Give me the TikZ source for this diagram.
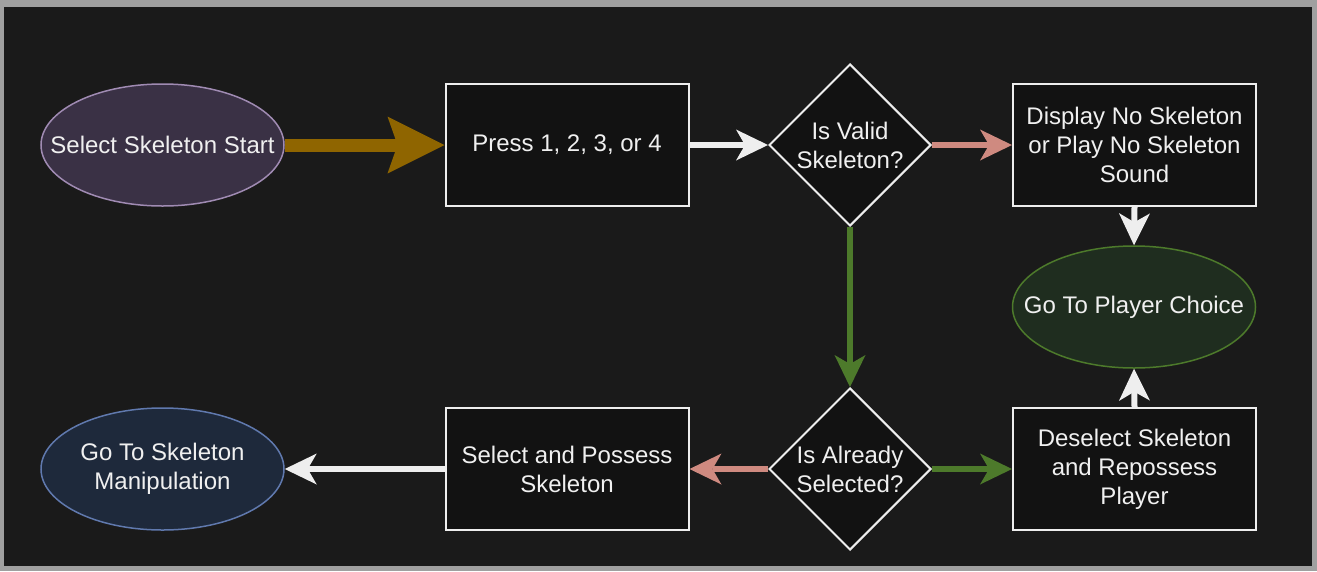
\documentclass[tikz,border=0pt]{standalone}
\usepackage{fontspec}
\setmainfont{Liberation Sans}
\usetikzlibrary{shapes.geometric,arrows.meta}
\definecolor{frame}{HTML}{A0A0A0}
\definecolor{bg}{HTML}{1A1A1A}
\definecolor{boxfill}{HTML}{121212}
\definecolor{boxline}{HTML}{EEEEEE}
\definecolor{txtc}{HTML}{F0F0F0}
\definecolor{purfill}{HTML}{3A3145}
\definecolor{purline}{HTML}{A08BB3}
\definecolor{bluefill}{HTML}{1E293B}
\definecolor{blueline}{HTML}{6079AE}
\definecolor{grnfill}{HTML}{1F2D1F}
\definecolor{grnline}{HTML}{4D7A2B}
\definecolor{gold}{HTML}{8F6500}
\definecolor{salmon}{HTML}{CF8A80}
\definecolor{grnarrow}{HTML}{4D7A2B}
\definecolor{whitearrow}{HTML}{EEEEEE}
\begin{document}
\begin{tikzpicture}[x=1pt,y=-1pt,
  txt/.style={text=txtc, font=\fontsize{24}{29}\selectfont, align=center},
  procbox/.style={draw=boxline, line width=2pt, fill=boxfill, minimum width=243pt, minimum height=122pt, inner sep=0pt, txt},
  decide/.style={diamond, aspect=1, draw=boxline, line width=2pt, fill=boxfill, minimum width=162pt, minimum height=162pt, inner sep=0pt},
  term/.style={ellipse, line width=1.5pt, minimum width=243pt, minimum height=122pt, inner sep=0pt},
  flow/.style={line width=6pt, -{Stealth[length=32pt,width=31pt,inset=9pt,line width=0pt]}},
  bigflow/.style={line width=13pt, -{Stealth[length=57pt,width=57pt,inset=10pt,line width=0pt]}},
]
\useasboundingbox (0,0) rectangle (1317,571);
\fill[frame] (0,0) rectangle (1317,571);
\fill[bg] (4,7) rectangle (1312,566);

\node[term, draw=purline, fill=purfill, label={[txt]center:Select Skeleton Start}] (start) at (162.5,145) {};
\node[procbox] (press) at (567,145) {Press 1, 2, 3, or 4};
\node[decide, label={[txt]center:Is Valid\\Skeleton?}] (valid) at (850,145) {};
\node[procbox] (disp) at (1134.5,145) {Display No Skeleton\\or Play No Skeleton\\Sound};
\node[term, draw=grnline, fill=grnfill, label={[txt]center:Go To Player Choice}] (player) at (1134,307) {};
\node[procbox] (desel) at (1134.5,469) {Deselect Skeleton\\and Repossess\\Player};
\node[decide, label={[txt]center:Is Already\\Selected?}] (already) at (850,469) {};
\node[procbox] (sel) at (567,469) {Select and Possess\\Skeleton};
\node[term, draw=blueline, fill=bluefill, label={[txt]center:Go To Skeleton\\Manipulation}] (manip) at (162.5,469) {};

\draw[bigflow, gold] (start.east) -- (press.west);
\draw[flow, whitearrow] (press.east) -- (valid.west);
\draw[flow, salmon] (valid.east) -- (disp.west);
\draw[flow, grnarrow] (valid.south) -- (already.north);
\draw[flow, whitearrow] (disp.south) -- (player.north);
\draw[flow, whitearrow] (desel.north) -- (player.south);
\draw[flow, salmon] (already.west) -- (sel.east);
\draw[flow, grnarrow] (already.east) -- (desel.west);
\draw[flow, whitearrow] (sel.west) -- (manip.east);
\end{tikzpicture}
\end{document}
